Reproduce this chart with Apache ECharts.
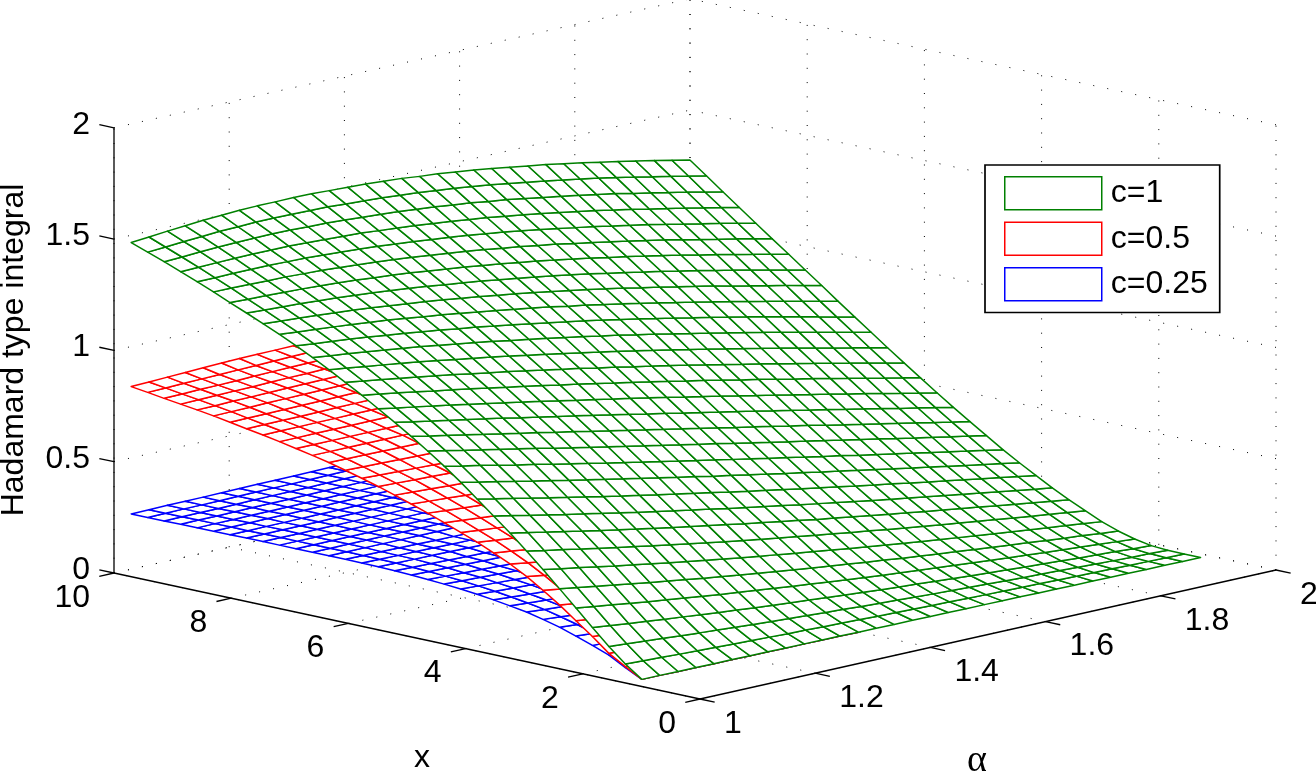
<!DOCTYPE html><html><head><meta charset="utf-8"><style>html,body{margin:0;background:#fff}#c{width:1316px;height:772px}</style><script src="https://cdn.jsdelivr.net/npm/echarts@6/dist/echarts.min.js"></script></head><body><div id="c"></div><script>
const zTicks=[0,0.5,1,1.5,2],xTicks=[0,2,4,6,8,10],alphaTicks=[1,1.2,1.4,1.6,1.8,2];
const zLabels=['0','0.5','1','1.5','2'],xLabels=['0','2','4','6','8','10'],alphaLabels=['1','1.2','1.4','1.6','1.8','2'];
const alphaNodes=[1.015,1.046,1.078,1.109,1.140,1.172,1.203,1.234,1.265,1.297,1.328,1.359,1.391,1.422,1.453,1.485,1.516,1.547,1.578,1.610,1.641,1.672,1.704,1.735,1.766,1.798,1.829,1.860,1.891,1.923,1.954,1.985];
const xNodes=[1.140,1.421,1.702,1.983,2.264,2.546,2.827,3.108,3.389,3.670,3.951,4.232,4.513,4.794,5.075,5.357,5.638,5.919,6.200,6.481,6.762,7.043,7.324,7.605,7.886,8.168,8.449,8.730,9.011,9.292,9.573,9.854];
// surface heights in thousandths; one row per x node, one column per alpha node
const green=[
[15,15,14,14,13,13,12,12,11,11,10,10,9,9,8,8,7,7,6,6,5,5,4,4,3,3,2,2,1,1,0,0],
[68,65,62,58,55,52,49,47,44,41,39,36,34,32,29,27,25,23,21,19,17,15,14,12,10,9,7,6,4,3,1,0],
[131,125,119,113,107,101,96,90,85,80,75,71,66,62,57,53,49,45,41,38,34,31,27,24,21,18,15,12,9,6,4,1],
[200,191,182,174,165,157,149,141,134,126,119,112,106,99,92,86,80,74,69,63,58,52,47,42,37,33,28,23,19,15,10,6],
[272,261,250,239,228,218,208,198,188,179,170,161,152,144,135,127,119,111,104,97,90,83,76,69,63,56,50,44,38,32,26,20],
[343,330,317,305,292,280,268,257,245,234,223,213,202,192,182,172,163,153,145,135,127,118,110,102,94,85,78,70,62,55,47,40],
[413,399,385,371,356,343,330,317,304,291,279,267,255,244,232,221,210,199,189,178,168,158,149,139,129,120,111,102,93,84,75,66],
[480,465,450,435,420,405,391,377,363,349,336,323,310,297,285,273,261,249,237,226,214,203,192,181,171,160,150,139,129,119,109,99],
[545,529,513,497,482,466,451,436,422,407,393,379,365,351,338,325,312,298,286,273,261,249,237,225,213,201,190,178,167,155,144,133],
[606,590,573,557,540,525,509,493,478,463,448,433,419,404,390,376,362,348,335,321,308,295,282,269,257,244,232,219,207,194,182,170],
[666,649,633,616,599,583,567,551,535,520,504,489,474,459,444,429,415,400,386,372,358,344,330,317,303,289,276,263,249,236,223,210],
[726,709,692,676,659,642,626,610,594,578,562,546,530,515,499,484,469,454,439,424,409,395,380,365,351,336,322,308,293,279,265,251],
[782,765,749,732,715,699,682,666,650,633,617,601,585,569,554,538,522,507,491,476,460,445,430,414,399,384,369,354,339,324,309,294],
[834,818,801,785,769,753,737,720,704,688,672,656,640,624,608,592,577,561,545,529,513,498,482,466,450,435,419,403,388,372,357,341],
[884,868,852,837,821,805,789,774,758,742,726,710,694,678,662,646,630,614,598,582,566,550,534,517,501,485,469,453,437,420,404,388],
[931,916,901,886,871,856,841,825,810,794,779,763,747,731,715,699,683,667,651,635,619,602,586,569,553,536,520,503,486,470,453,436],
[976,962,948,934,920,905,891,876,861,846,831,815,800,784,769,753,737,721,705,688,672,655,639,622,605,589,571,555,537,520,503,486],
[1021,1008,995,982,968,955,941,927,912,898,883,868,853,838,822,807,791,775,759,743,726,709,693,676,659,642,624,607,590,572,555,537],
[1063,1051,1039,1027,1014,1001,989,975,961,948,934,919,904,890,874,859,843,828,812,796,779,762,745,729,711,694,677,659,642,624,606,588],
[1104,1093,1082,1071,1060,1048,1036,1023,1010,997,984,969,955,941,926,911,896,881,865,849,832,816,799,782,765,747,730,712,694,676,658,640],
[1143,1133,1124,1114,1104,1093,1083,1071,1059,1047,1034,1020,1007,993,979,965,949,935,919,903,887,870,854,837,820,802,784,767,749,731,712,694],
[1180,1171,1163,1155,1146,1136,1127,1116,1105,1093,1082,1069,1056,1043,1029,1015,1001,987,971,956,939,923,906,890,873,856,838,820,802,784,765,747],
[1215,1208,1201,1194,1187,1178,1170,1160,1149,1139,1128,1116,1104,1092,1079,1066,1051,1038,1023,1008,992,976,959,943,926,909,891,874,856,838,819,801],
[1247,1241,1236,1230,1224,1217,1210,1201,1192,1183,1173,1162,1151,1139,1127,1115,1101,1088,1074,1059,1044,1028,1012,996,980,963,945,928,910,893,874,856],
[1279,1275,1271,1267,1262,1256,1250,1243,1235,1227,1218,1207,1197,1187,1175,1163,1150,1138,1124,1110,1095,1080,1064,1049,1032,1016,998,982,964,946,928,910],
[1310,1307,1305,1302,1299,1294,1290,1284,1277,1270,1262,1252,1243,1234,1223,1212,1200,1188,1175,1161,1147,1132,1117,1102,1086,1070,1052,1036,1018,1001,983,965],
[1342,1341,1340,1338,1337,1333,1330,1325,1319,1313,1306,1298,1289,1280,1271,1260,1248,1238,1224,1212,1197,1183,1168,1153,1138,1122,1105,1088,1071,1054,1036,1018],
[1372,1372,1373,1373,1373,1371,1369,1365,1360,1355,1350,1342,1334,1326,1318,1308,1297,1287,1274,1262,1248,1234,1220,1205,1190,1175,1158,1141,1125,1108,1090,1072],
[1401,1403,1405,1407,1408,1407,1407,1404,1401,1397,1393,1386,1379,1372,1364,1355,1345,1336,1324,1312,1299,1286,1272,1258,1243,1228,1211,1195,1179,1162,1145,1127],
[1430,1433,1438,1441,1444,1445,1446,1445,1442,1440,1436,1430,1425,1419,1412,1404,1394,1386,1374,1364,1351,1338,1325,1311,1296,1282,1265,1250,1233,1217,1199,1182],
[1457,1462,1468,1473,1478,1480,1483,1483,1482,1481,1479,1474,1470,1465,1459,1452,1443,1436,1425,1415,1403,1390,1377,1364,1350,1336,1320,1305,1288,1272,1255,1238],
[1484,1491,1499,1505,1512,1516,1520,1522,1522,1523,1522,1518,1515,1511,1506,1500,1491,1485,1475,1465,1454,1442,1429,1417,1403,1389,1373,1359,1343,1327,1310,1293]];
const red=[
[15,15,14,14,13,13,12,12,11,11,10,10,9],
[56,54,52,50,48,46,44,42,40,38,36,34,32],
[100,96,92,88,84,80,76,72,68,64,60,56,52],
[160,154,148,142,136,130,124,118,112,106,100,94,88],
[215,206,197,188,179,170,161,152,143,134,125,116,107],
[270,259,248,237,226,215,204,193,182,171,160,149,138],
[320,308,296,284,272,260,248,236,224,212,200,188,176],
[366,353,340,327,314,301,288,275,262,249,236,223,210],
[406,394,382,370,358,346,334,322,310,298,286,274,262],
[440,430,420,410,400,390,380,370,360,350,340,330,320],
[472,463,454,445,436,427,418,409,400,391,382,373,364],
[500,492,484,476,468,460,452,444,436,428,420,412,404],
[528,521,514,507,500,493,486,479,472,465,458,451,444],
[555,549,543,537,531,525,519,513,507,501,495,489,483],
[580,575,570,565,560,555,550,545,540,535,530,525,520],
[604,600,596,592,588,584,580,576,572,568,564,560,556],
[627,624,621,618,615,612,609,606,603,600,597,594,591],
[648,645,642,639,636,633,630,627,624,621,618,615,612],
[668,666,664,662,660,658,656,654,652,650,648,646,644],
[687,686,685,684,683,682,681,680,679,678,677,676,675],
[703,703,703,703,703,703,703,703,703,703,703,703,703],
[718,718,718,718,718,718,718,718,718,718,718,718,718],
[733,733,734,734,734,735,735,735,735,736,736,736,737],
[747,748,748,749,749,750,750,751,751,752,752,753,753],
[759,760,761,761,762,763,764,765,765,766,767,768,769],
[772,773,774,775,776,777,778,779,780,781,782,783,784],
[785,786,787,789,790,791,792,793,795,796,797,798,799],
[796,797,799,800,802,803,804,806,807,809,810,811,813],
[806,808,809,811,812,814,816,817,819,820,822,824,825],
[816,818,820,821,823,825,827,829,830,832,834,836,838],
[827,829,831,833,835,837,839,841,843,845,847,849,851],
[837,840,843,846,849,852,854,855,856,857,857,857,857]];
const blue=[
[15,15,14,14,13,13,12,12,11,11,10,10,9],
[52,51,50,49,48,47,46,45,44,43,42,41,40],
[92,89,86,83,80,77,74,71,68,65,62,59,56],
[120,116,112,108,104,100,96,92,88,84,80,76,72],
[146,141,136,131,126,121,116,111,106,101,96,91,86],
[170,164,158,152,146,140,134,128,122,116,110,104,98],
[189,183,177,171,165,159,153,147,141,135,129,123,117],
[206,200,194,188,182,176,170,164,158,152,146,140,134],
[218,213,208,203,198,193,188,183,178,173,168,163,158],
[229,224,219,214,209,204,199,194,189,184,179,174,169],
[238,234,230,226,222,218,214,210,206,202,198,194,190],
[246,242,238,234,230,226,222,218,214,210,206,202,198],
[252,249,246,243,240,237,234,231,228,225,222,219,216],
[257,254,251,248,245,242,239,236,233,230,227,224,221],
[261,259,257,255,253,251,249,247,245,243,241,239,237],
[264,262,260,258,256,254,252,250,248,246,244,242,240],
[266,265,264,263,262,261,260,259,258,257,256,255,254],
[267,266,265,264,263,262,261,260,259,258,257,256,255],
[268,267,266,265,264,263,262,261,260,259,258,257,256],
[268,268,268,268,268,268,268,268,268,268,268,268,268],
[268,268,268,268,268,268,268,268,268,268,268,268,268],
[268,268,268,268,268,268,268,268,268,268,268,268,268],
[268,268,268,268,268,268,268,268,268,268,268,268,268],
[268,268,268,269,269,269,269,269,270,270,270,270,270],
[268,268,269,269,269,270,270,270,270,271,271,271,272],
[267,267,268,268,269,269,269,270,270,271,271,271,272],
[267,268,268,269,269,270,270,271,271,272,272,273,273],
[266,267,267,268,268,269,270,270,271,271,272,273,273],
[266,267,267,268,269,270,270,271,272,272,273,274,274],
[265,266,267,267,268,269,270,271,271,272,273,274,275],
[265,266,267,267,268,269,270,271,271,272,273,274,275],
[265,266,267,267,268,269,270,271,271,272,273,274,275]];
const P={o:[700,699],a:[576,-129],x:[-58.6,-12.6],z:[0,-222.6]};
const proj=(al,x,z)=>[P.o[0]+P.a[0]*(al-1)+P.x[0]*x,P.o[1]+P.a[1]*(al-1)+P.x[1]*x+P.z[1]*z];
const seg=[],dots=[];
alphaTicks.forEach(a=>{dots.push([a,0,0,a,10,0],[a,10,0,a,10,2])});
xTicks.forEach(x=>{dots.push([1,x,0,2,x,0],[2,x,0,2,x,2])});
zTicks.forEach(z=>{dots.push([1,10,z,2,10,z],[2,0,z,2,10,z])});
seg.push([1,0,0,1,10,0],[1,0,0,2,0,0],[1,10,0,1,10,2]);
zTicks.forEach(z=>seg.push([1,10,z,1,10.25,z]));
xTicks.forEach(x=>seg.push([1,x,0,0.9744,x,0]));
alphaTicks.forEach(a=>seg.push([a,0,0,a,-0.25,0]));
function lineSeries(list,style,name){return{type:'custom',name,coordinateSystem:'cartesian2d',silent:true,z:1,animation:false,data:list.map((_,k)=>[k,0]),renderItem(p,api){const s=list[api.value(0)];const A=api.coord(proj(s[0],s[1],s[2])),C=api.coord(proj(s[3],s[4],s[5]));return{type:'line',shape:{x1:A[0],y1:A[1],x2:C[0],y2:C[1]},style}}}}
function surf(name,table,color,z){const cells=[];for(let j=0;j<table.length-1;j++)for(let i=0;i<table[j].length-1;i++)cells.push([i,j]);
return{type:'custom',name,coordinateSystem:'cartesian2d',z,silent:true,animation:false,clip:false,itemStyle:{color:'#fff',borderColor:color},data:cells,renderItem(p,api){const i=api.value(0),j=api.value(1);const pts=[[i,j],[i+1,j],[i+1,j+1],[i,j+1]].map(q=>api.coord(proj(alphaNodes[q[0]],xNodes[q[1]],table[q[1]][q[0]]/1000)));return{type:'polygon',shape:{points:pts},style:{fill:'#fff',stroke:color,lineWidth:1.5,lineJoin:'round'}}}}}
const FONT='32px "Liberation Sans"';
function textSeries(items){return{type:'custom',name:'ticks',coordinateSystem:'cartesian2d',silent:true,z:6,animation:false,clip:false,data:items.map((_,k)=>[k,0]),renderItem(p,api){const t=items[api.value(0)];const c=api.coord(proj(t.a,t.x,t.z));return{type:'text',x:c[0]+t.dx,y:c[1]+t.dy,style:{text:t.s,fill:'#000',font:FONT,align:t.align,verticalAlign:'middle'}}}}}
const labels=[];
zTicks.forEach((z,k)=>labels.push({a:1,x:10,z,s:zLabels[k],dx:-24,dy:-3,align:'right'}));
xTicks.forEach((x,k)=>labels.push({a:1,x,z:0,s:xLabels[k],dx:-24,dy:25,align:'right'}));
alphaTicks.forEach((a,k)=>labels.push({a,x:0,z:0,s:alphaLabels[k],dx:24,dy:25,align:'left'}));
const chart=echarts.init(document.getElementById('c'),null,{renderer:'canvas'});
chart.setOption({animation:false,backgroundColor:'#fff',grid:{left:0,top:0,right:0,bottom:0},
xAxis:{type:'value',min:0,max:1316,show:false},yAxis:{type:'value',min:0,max:772,inverse:true,show:false},
legend:{left:985,top:165,orient:'vertical',selectedMode:false,backgroundColor:'#fff',borderColor:'#000',borderWidth:1.7,borderRadius:0,padding:[11,12,11,19],itemWidth:97,itemHeight:33,itemGap:11,z:20,textStyle:{fontSize:32,lineHeight:33,color:'#000',fontFamily:'Liberation Sans',padding:[0,0,0,4]},
data:[{name:'c=1',icon:'rect',itemStyle:{color:'#fff',borderColor:'#008000',borderWidth:1.5}},{name:'c=0.5',icon:'rect',itemStyle:{color:'#fff',borderColor:'#ff0000',borderWidth:1.5}},{name:'c=0.25',icon:'rect',itemStyle:{color:'#fff',borderColor:'#0000ff',borderWidth:1.5}}]},
graphic:[{type:'text',x:422,y:758,z:10,style:{text:'x',font:FONT,fill:'#000',align:'center',verticalAlign:'middle'}},{type:'text',x:977,y:761,z:10,style:{text:'α',font:'38px "Liberation Serif"',fill:'#000',align:'center',verticalAlign:'middle'}},{type:'text',x:14,y:350,z:10,rotation:Math.PI/2,style:{text:'Hadamard type integral',font:FONT,fill:'#000',align:'center',verticalAlign:'middle'}}],
series:[lineSeries(dots,{stroke:'#000',lineWidth:1,lineDash:[1,13.3],fill:null},'grid'),lineSeries(seg,{stroke:'#000',lineWidth:1.3,fill:null},'axes'),surf('c=0.25',blue,'#0000ff',2),surf('c=0.5',red,'#ff0000',3),surf('c=1',green,'#008000',4),textSeries(labels)]});
</script></body></html>
